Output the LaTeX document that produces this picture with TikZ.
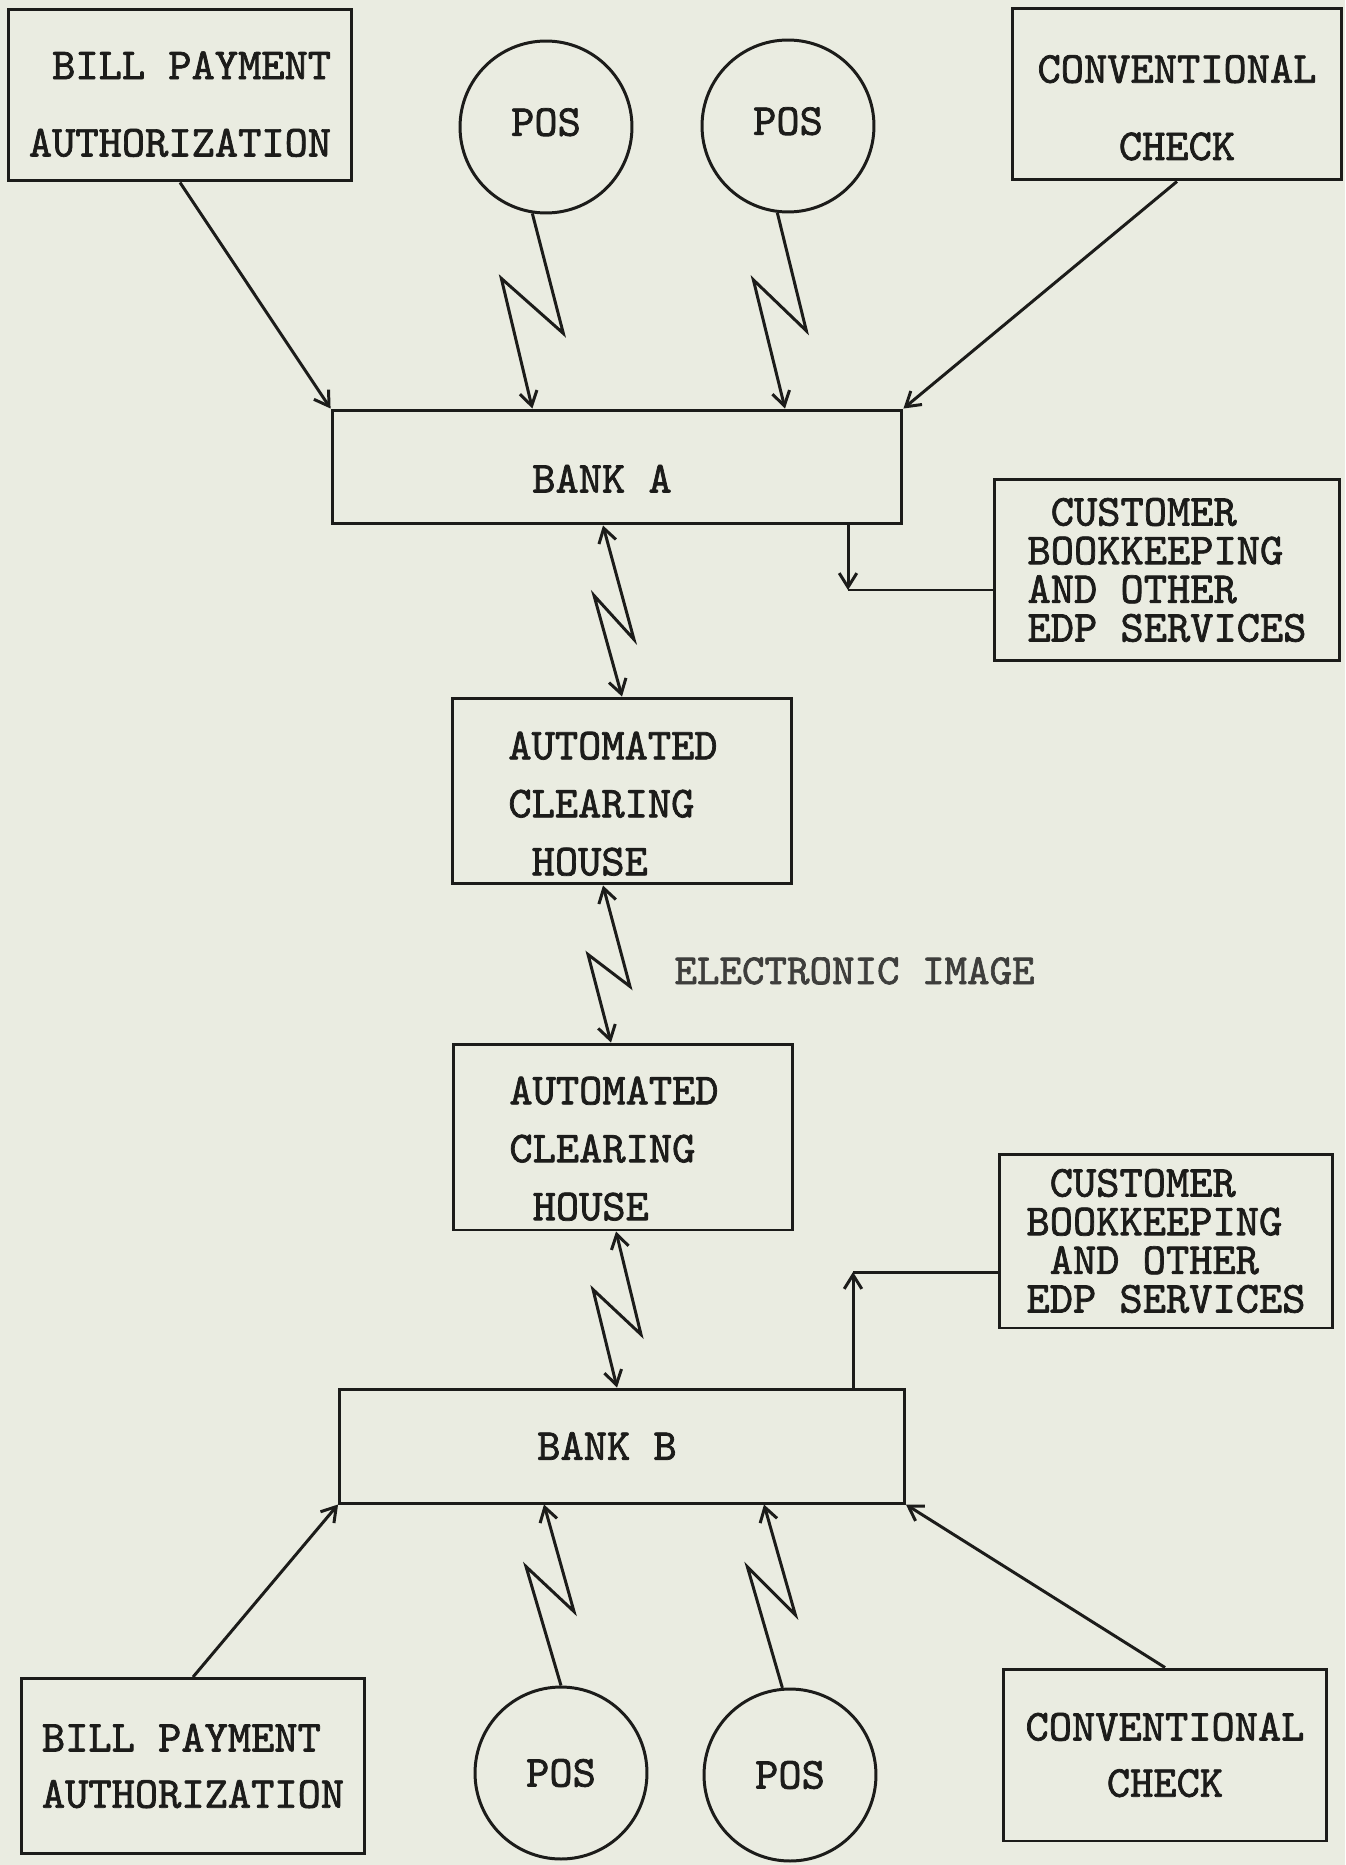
\documentclass[tikz,border=0pt]{standalone}
\usepackage{fontspec}
\newfontfamily\typewriter{lmmono10-regular.otf}[FakeBold=1.6]
\usetikzlibrary{arrows.meta}

\definecolor{paper}{RGB}{234,236,225}
\definecolor{ink}{RGB}{28,28,26}

\tikzset{
    typed/.style={font=\fontsize{25.2pt}{#1}\selectfont\typewriter},
    box/.style={draw, rectangle, inner sep=0pt},
    terminal/.style={draw, circle, inner sep=0pt, minimum size=3.44cm, typed=30pt},
}

\begin{document}
\begin{tikzpicture}[x=0.02cm, y=-0.02cm, line width=1.7pt, color=ink, >={Straight Barb[length=8pt, width=10pt]}]
    \path[use as bounding box, fill=paper] (0, 0) rectangle (1345, 1865);

    \node[box, typed=44pt, text height=70.2pt, align=right, minimum width=6.88cm, minimum height=3.44cm] (billA) at (180, 95) {BILL PAYMENT\\AUTHORIZATION};
    \node[terminal, text depth=5.7pt] (posA1) at (546, 127) {POS};
    \node[terminal, text depth=5.7pt] (posA2) at (788, 126) {POS};
    \node[box, typed=44pt, text height=75.4pt, align=center, minimum width=6.6cm, minimum height=3.44cm] (convA) at (1177, 94) {CONVENTIONAL\\CHECK};

    \node[box, typed=30pt, text height=29pt, minimum width=11.4cm, minimum height=2.28cm] (bankA) at (617, 467) {BANK A\hspace{0.6cm}\mbox{}};
    \node[box, typed=22pt, align=left, minimum width=6.9cm, minimum height=3.62cm] (bookA) at (1167, 570) {\phantom{C}CUSTOMER\\BOOKKEEPING\\AND OTHER\\EDP SERVICES};

    \node[box, typed=33pt, text height=96.2pt, align=left, minimum width=6.8cm, minimum height=3.72cm] (ach1) at (622, 791) {AUTOMATED\hspace{0.36cm}\mbox{}\\CLEARING\\\phantom{H}HOUSE};
    \node[font=\fontsize{24.4pt}{30pt}\selectfont\typewriter, anchor=base west, inner sep=0pt, text=ink!85] (elimage) at (673, 984) {ELECTRONIC IMAGE};
    \node[box, typed=33pt, text height=95pt, align=left, minimum width=6.78cm, minimum height=3.72cm] (ach2) at (623, 1137) {AUTOMATED\hspace{0.36cm}\mbox{}\\CLEARING\\\phantom{H}HOUSE};

    \node[box, typed=22pt, align=left, minimum width=6.66cm, minimum height=3.48cm] (bookB) at (1166, 1241) {\phantom{C}CUSTOMER\\BOOKKEEPING\\\phantom{A}AND OTHER\\EDP SERVICES};
    \node[box, typed=30pt, minimum width=11.3cm, minimum height=2.28cm] (bankB) at (622, 1446) {BANK B\hspace{0.6cm}\mbox{}};

    \node[box, typed=32pt, align=left, minimum width=6.86cm, minimum height=3.5cm] (billB) at (193, 1766) {BILL PAYMENT\\AUTHORIZATION};
    \node[terminal] (posB1) at (561, 1773) {POS};
    \node[terminal] (posB2) at (790, 1775) {POS};
    \node[box, typed=32pt, align=center, minimum width=6.46cm, minimum height=3.44cm] (convB) at (1165, 1755) {CONVENTIONAL\\CHECK};

    \draw[->] (billA.south) -- (bankA.north west);
    \draw[->] (convA.south) -- (bankA.north east);
    \draw[->] (posA1.261) -- ++(31, 120) -- ++(-62, -55) -- (posA1.261 |- bankA.north);
    \draw[->] (posA2.263) -- ++(29, 118) -- ++(-53, -51) -- (785, 0 |- bankA.north);

    \coordinate (kinkA) at (848, 590);
    \draw[->] (kinkA |- bankA.south) -- (kinkA);
    \draw (kinkA) -- (kinkA -| bookA.west);

    \draw[<->] (603, 0 |- bankA.south) -- ++(31, 114) -- ++(-40, -44) -- (ach1.north);
    \draw[<->] (603, 0 |- ach1.south) -- ++(27, 101) -- ++(-42, -32) -- (611, 0 |- ach2.north);
    \draw[<->] (616, 0 |- ach2.south) -- ++(25, 103) -- ++(-48, -45) -- (617, 0 |- bankB.north);

    \coordinate (kinkB) at (853, 1272);
    \draw[->] (kinkB |- bankB.north) -- (kinkB);
    \draw (kinkB) -- (kinkB -| bookB.west);

    \draw[->] (billB.north) -- (bankB.south west);
    \draw[->] (convB.north) -- (bankB.south east);
    \draw[->] (posB1.north) -- ++(-35, -119) -- ++(48, 45) -- (544, 0 |- bankB.south);
    \draw[->] (posB2.95) -- ++(-35, -121) -- ++(48, 48) -- (764, 0 |- bankB.south);
\end{tikzpicture}
\end{document}
